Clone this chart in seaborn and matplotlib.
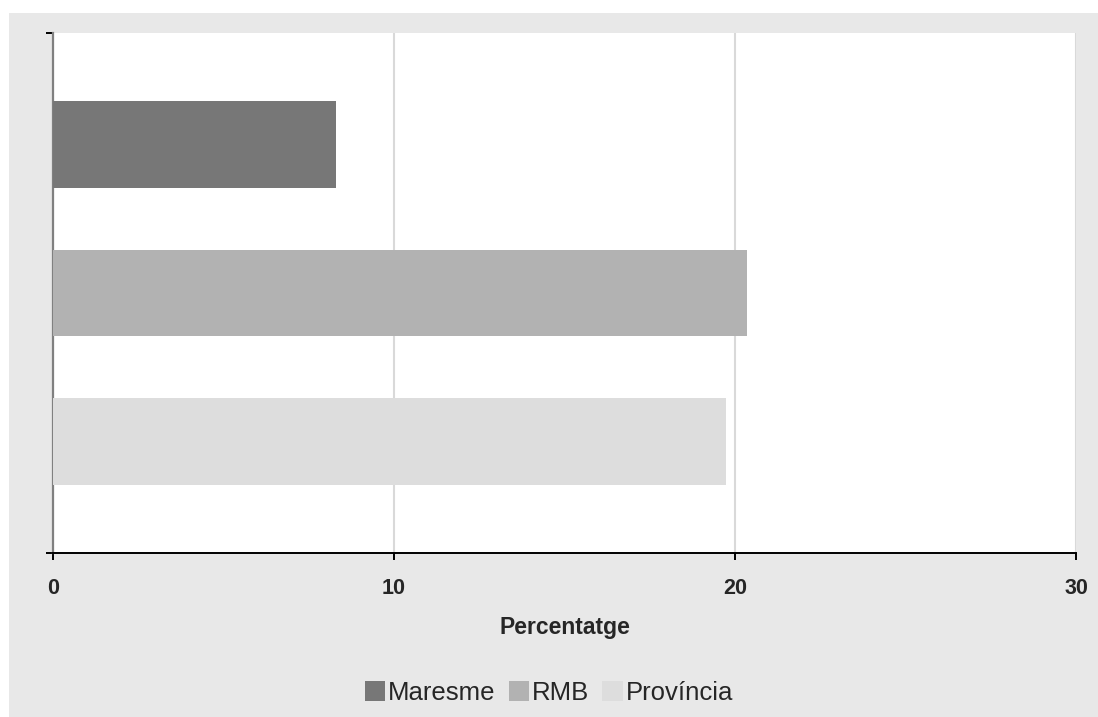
import numpy as np
import pandas as pd
import seaborn as sns
import matplotlib.pyplot as plt
from matplotlib.patches import Rectangle

# ==========================================
# DATA
# ==========================================
regions = ["Maresme", "RMB", "Província"]
percentages = [8.3, 20.35, 19.75]
bar_colors = ["#777777", "#B2B2B2", "#DDDDDD"]
x_ticks = [0, 10, 20, 30]

df = pd.DataFrame({"region": regions, "pct": percentages})

sns.set_style("white")
plt.rcParams["font.family"] = ["Liberation Sans", "DejaVu Sans"]

W, H = 1098, 717
fig = plt.figure(figsize=(W / 100, H / 100), dpi=100)
fig.patch.set_facecolor("white")

# gray chart area (leaves a thin white margin top/left like the original export)
fig.add_artist(Rectangle((9 / W, 0), 1 - 9 / W, 1 - 13 / H, transform=fig.transFigure,
                         facecolor="#E8E8E8", edgecolor="none", zorder=0))

left, right, top, bottom = 53, 1076, 33, 553
ax = fig.add_axes([left / W, 1 - bottom / H, (right - left) / W, (bottom - top) / H])
ax.set_facecolor("white")

sns.barplot(data=df, x="pct", y="region", hue="region", palette=bar_colors,
            width=0.585, orient="h", ax=ax, legend=True, saturation=1,
            linewidth=0, zorder=3)

# ==========================================
# AXES STYLING
# ==========================================
ax.set_xlim(0, 30)
ax.set_ylim(2.75, -0.75)
ax.set_xticks(x_ticks)
ax.set_xticklabels([str(t) for t in x_ticks], fontsize=15.5, fontweight="bold")
ax.set_yticks([-0.75, 2.75])
ax.set_yticklabels([])
ax.set_ylabel("")
ax.set_xlabel("Percentatge", fontsize=16.5, fontweight="bold", labelpad=12)

ax.grid(axis="x", color="#D9D9D9", linewidth=1.5, zorder=0)
ax.set_axisbelow(True)

for side in ["top", "right"]:
    ax.spines[side].set_visible(False)
ax.spines["left"].set_color("#808080")
ax.spines["left"].set_linewidth(1.6)
ax.spines["bottom"].set_color("black")
ax.spines["bottom"].set_linewidth(1.4)

ax.tick_params(axis="x", direction="out", length=5, width=1.4, color="black", pad=13)
ax.tick_params(axis="y", direction="out", length=5, width=1.4, color="black")
ax.tick_params(bottom=True, left=True)

# ==========================================
# LEGEND
# ==========================================
handles, labels = ax.get_legend_handles_labels()
ax.get_legend().remove()
fig.legend(handles, labels, loc="center", bbox_to_anchor=(0.5, 1 - 693 / H),
           ncol=3, frameon=False, fontsize=18.5, handlelength=0.8, handleheight=0.8,
           handletextpad=0.12, columnspacing=0.5)

fig.savefig("out.png", dpi=100, facecolor=fig.get_facecolor())
